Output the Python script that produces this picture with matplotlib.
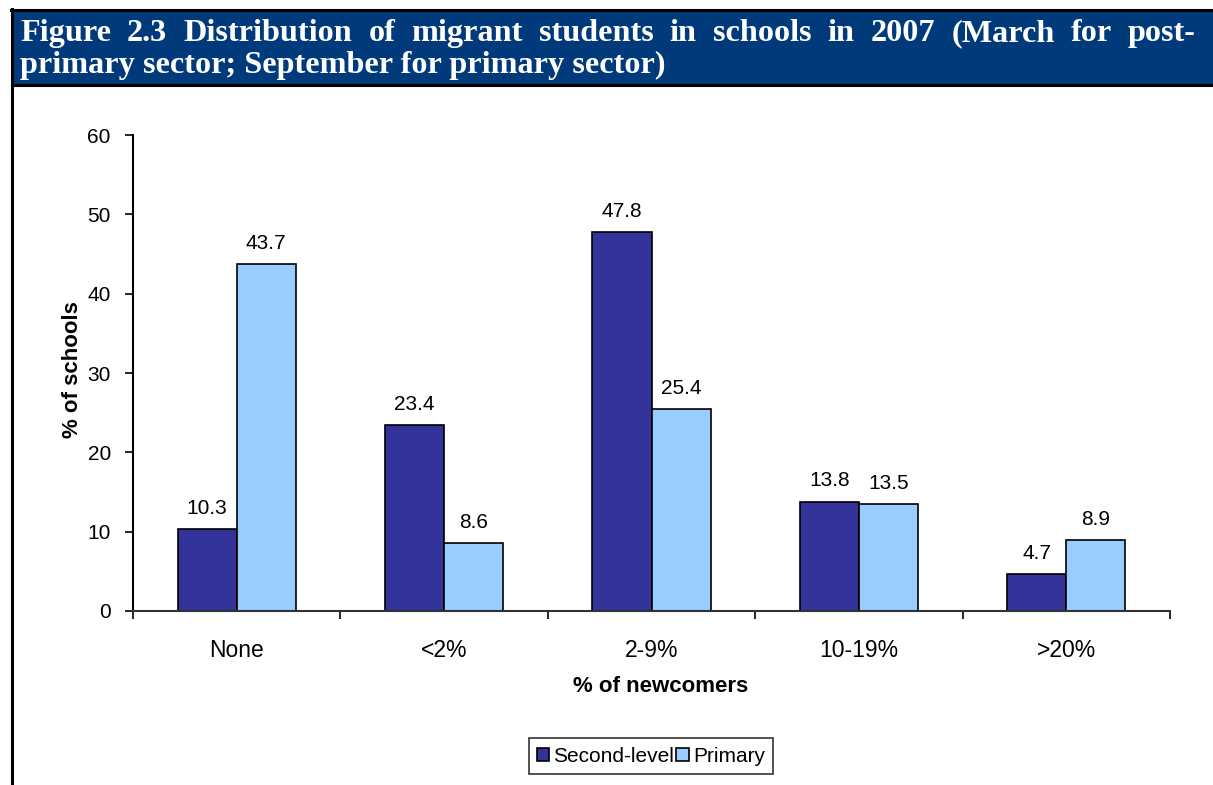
import matplotlib
matplotlib.use("Agg")
import matplotlib.pyplot as plt
import numpy as np
from matplotlib.patches import Rectangle
from matplotlib.lines import Line2D

categories = ["None", "<2%", "2-9%", "10-19%", ">20%"]
second_level = [10.3, 23.4, 47.8, 13.8, 4.7]
primary = [43.7, 8.6, 25.4, 13.5, 8.9]
series_names = ["Second-level", "Primary"]
yticks = [0, 10, 20, 30, 40, 50, 60]
title_line1 = "Figure 2.3 Distribution of migrant students in schools in 2007 (March for post-"
title_line2 = "primary sector; September for primary sector)"

W, H = 1213, 785
fig = plt.figure(figsize=(W / 100, H / 100), dpi=100)
plt.rcParams['font.family'] = ['Liberation Sans', 'DejaVu Sans']

def fx(px):
    return px / W

def fy(py):
    return 1 - py / H

# Banner
fig.patches.append(Rectangle((fx(12), fy(86)), fx(1213 - 12), (86 - 9) / H,
                             transform=fig.transFigure, facecolor="#003A7A",
                             edgecolor="none", zorder=0))
fig.lines.append(Line2D([fx(11), fx(1213)], [fy(10), fy(10)], transform=fig.transFigure,
                        color="black", lw=2.2))
fig.lines.append(Line2D([fx(12), fx(1213)], [fy(85), fy(85)], transform=fig.transFigure,
                        color="black", lw=2.2))
fig.lines.append(Line2D([fx(12), fx(12)], [fy(9), fy(785)], transform=fig.transFigure,
                        color="black", lw=2.2))

renderer = fig.canvas.get_renderer()
tfont = dict(family="Liberation Serif", weight="bold", color="white")
# size title so that line 2 spans ~645 px like the reference
probe = fig.text(0, 0, title_line2, size=20, **tfont)
w20 = probe.get_window_extent(renderer).width
probe.remove()
tsize = 20 * 645 / w20

words = title_line1.split(" ")
texts = []
for w in words:
    t = fig.text(0, fy(41), w, ha="left", va="baseline", size=tsize, **tfont)
    texts.append(t)
widths = [t.get_window_extent(renderer).width for t in texts]
x0, x1 = 20, 1196
gap = (x1 - x0 - sum(widths)) / (len(words) - 1)
x = x0
for t, wd in zip(texts, widths):
    t.set_x(fx(x))
    x += wd + gap
fig.text(fx(20), fy(73), title_line2, ha="left", va="baseline", size=tsize, **tfont)

# Axes
ax = fig.add_axes([fx(133), fy(611), fx(1170) - fx(133), (611 - 135) / H])
n = len(categories)
xpos = np.arange(n)
bw = 0.285
b1 = ax.bar(xpos - bw / 2, second_level, bw, color="#333399", edgecolor="black", lw=1.2,
            label=series_names[0], zorder=2)
b2 = ax.bar(xpos + bw / 2, primary, bw, color="#99CCFF", edgecolor="black", lw=1.2,
            label=series_names[1], zorder=2)
for bars, vals in ((b1, second_level), (b2, primary)):
    for r, v in zip(bars, vals):
        ax.annotate(f"{v}", (r.get_x() + r.get_width() / 2, v), xytext=(0, 8),
                    textcoords="offset points", ha="center", va="bottom", fontsize=15)

ax.set_xlim(-0.5, n - 0.5)
ax.set_ylim(0, 60)
ax.set_yticks(yticks)
ax.set_yticklabels([str(v) for v in yticks], fontsize=15)
ax.set_xticks(np.arange(n + 1) - 0.5)
ax.set_xticklabels([])
ax.set_xticks(xpos, minor=True)
ax.set_xticklabels(categories, minor=True, fontsize=16.5)
ax.tick_params(axis="x", which="minor", length=0, pad=20)
ax.tick_params(axis="x", which="major", length=6, width=1.2, direction="out")
ax.tick_params(axis="y", length=6, width=1.2, direction="out", pad=10)
for s in ("top", "right"):
    ax.spines[s].set_visible(False)
ax.spines["left"].set_linewidth(1.5)
ax.spines["bottom"].set_linewidth(1.5)
ax.spines["bottom"].set_color("#333333")

fig.text(fx(661), fy(686), "% of newcomers", fontsize=16, fontweight="bold",
         ha="center", va="center")
fig.text(fx(72), fy(370), "% of schools", fontsize=16, fontweight="bold",
         ha="center", va="center", rotation=90)

leg = fig.legend(handles=[b1, b2], labels=series_names, loc="center",
                 bbox_to_anchor=(fx(651), fy(756)), ncol=2, fontsize=15,
                 frameon=True, fancybox=False, edgecolor="black",
                 handlelength=0.6, handleheight=0.6, handletextpad=0.2,
                 columnspacing=0.1, borderpad=0.4, borderaxespad=0)
leg.get_frame().set_linewidth(1.2)

fig.savefig("out.png", dpi=100)
